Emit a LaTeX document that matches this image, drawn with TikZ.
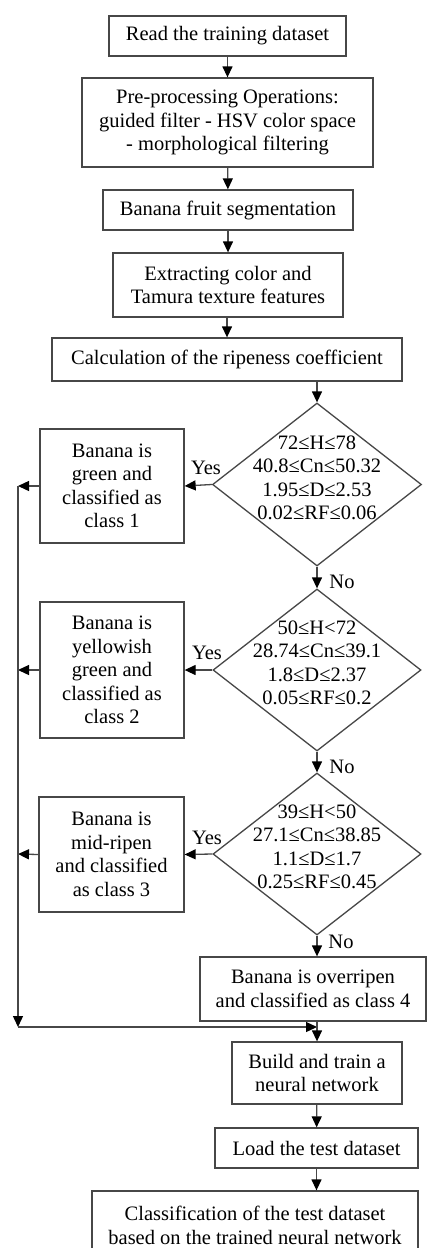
\documentclass[tikz,border=0pt]{standalone}
\usepackage{fontspec}
\setmainfont{Liberation Serif}
\usetikzlibrary{shapes.geometric,arrows.meta}
\definecolor{edge}{gray}{0.28}
\begin{document}
\begin{tikzpicture}[x=1pt,y=-1pt,
  txt/.style={font=\fontsize{20.5}{23.5}\selectfont, align=center, inner sep=0pt},
  box/.style={txt, draw=edge, line width=1.3pt, rectangle},
  dia/.style={draw=edge, line width=1.3pt, diamond, inner sep=0pt},
  arr/.style={draw=edge, line width=1.3pt, -{Triangle[length=11pt,width=10pt,color=black]}},
  lab/.style={font=\fontsize{20.5}{23.5}\selectfont, inner sep=0pt}]
\path[use as bounding box, clip] (0,0) rectangle (427,1248);
\fill[white] (0,0) rectangle (427,1248);

% main column of processing steps
\node[box, minimum width=237, minimum height=40] (read) at (227.5,36) {Read the training dataset};
\node[box, minimum width=291, minimum height=89] (pre) at (227.5,122.5) {Pre-processing Operations:\\guided filter - HSV color space\\- morphological filtering};
\node[box, minimum width=250, minimum height=40] (seg) at (228,210) {Banana fruit segmentation};
\node[box, minimum width=230, minimum height=64] (ext) at (228,285) {Extracting color and\\Tamura texture features};
\node[box, minimum width=350, minimum height=43] (calc) at (227,359.5) {Calculation of the ripeness coefficient};

% decisions on the ripeness features
\node[dia, minimum width=209, minimum height=163] (d1) at (317,484.5) {};
\node[txt] (t1) at (317,478) {72≤H≤78\\40.8≤Cn≤50.32\\1.95≤D≤2.53\\0.02≤RF≤0.06};
\node[dia, minimum width=208, minimum height=162] (d2) at (317,670) {};
\node[txt] (t2) at (317,663) {50≤H<72\\28.74≤Cn≤39.1\\1.8≤D≤2.37\\0.05≤RF≤0.2};
\node[dia, minimum width=208, minimum height=162] (d3) at (317,854) {};
\node[txt] (t3) at (317,847) {39≤H<50\\27.1≤Cn≤38.85\\1.1≤D≤1.7\\0.25≤RF≤0.45};

% class outcomes
\node[box, minimum width=144, minimum height=114] (c1) at (112,486) {Banana is\\green and\\classified as\\class 1};
\node[box, minimum width=144, minimum height=136] (c2) at (112,670) {Banana is\\yellowish\\green and\\classified as\\class 2};
\node[box, minimum width=145, minimum height=115] (c3) at (111.5,854.5) {Banana is\\mid-ripen\\and classified\\as class 3};
\node[box, minimum width=226, minimum height=64] (c4) at (313,989) {Banana is overripen\\and classified as class 4};

% network training and testing
\node[box, minimum width=170, minimum height=62] (build) at (317,1073) {Build and train a\\neural network};
\node[box, minimum width=203, minimum height=40] (load) at (316.5,1148) {Load the test dataset};
\node[box, minimum width=326, minimum height=69] (cls) at (255,1225.5) {Classification of the test dataset\\based on the trained neural network};

% connectors
\draw[arr] (read) -- (pre);
\draw[arr] (pre) -- (seg);
\draw[arr] (seg) -- (ext);
\draw[arr] (ext.south -| calc) -- (calc);
\draw[arr] (d1.north |- calc.south) -- (d1.north);
\draw[arr] (d1) -- (d2);
\draw[arr] (d2) -- (d3);
\draw[arr] (d3.south) -- (d3.south |- c4.north);
\draw[arr] (d1.west) -- (c1.east);
\draw[arr] (d2.west) -- (c2.east);
\draw[arr] (d3.west) -- (c3.east);

\coordinate (k1) at (18,486);
\coordinate (k2) at (18,670);
\coordinate (k3) at (18,854);
\coordinate (kb) at (18,1027);
\coordinate (kr) at (317,1027);
\draw[arr] (c1.west) -- (k1);
\draw[arr] (c2.west) -- (k2);
\draw[arr] (c3.west) -- (k3);
\draw[arr] (k1) -- (kb);
\draw[arr] (kb) -- (kr);
\draw[arr] (c4.south -| build.north) -- (build.north);
\draw[arr] (build) -- (load);
\draw[arr] (load.south) -- (load.south |- cls.north);

% branch labels
\node[lab] (y1) at (206,468) {Yes};
\node[lab] (y2) at (207,653) {Yes};
\node[lab] (y3) at (207,838) {Yes};
\node[lab] (n1) at (342,582) {No};
\node[lab] (n2) at (342,767) {No};
\node[lab] (n3) at (341,942) {No};
\end{tikzpicture}
\end{document}
